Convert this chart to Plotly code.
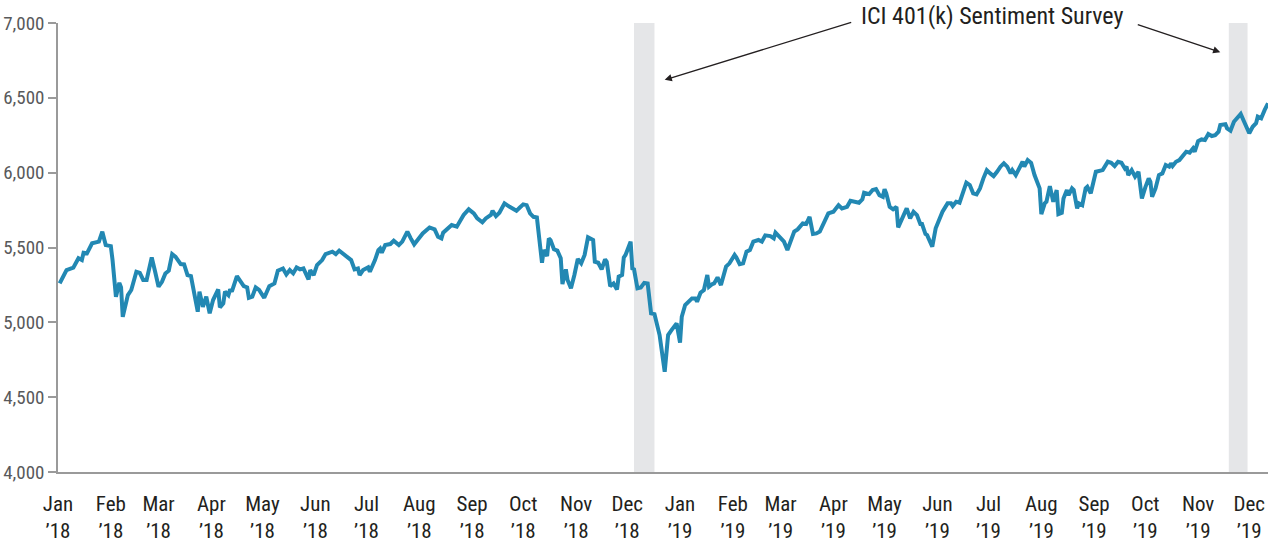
import plotly.graph_objects as go

# ---------------- data ----------------
dates = [
    "2018-01-02","2018-01-06","2018-01-10","2018-01-13","2018-01-15","2018-01-16","2018-01-18","2018-01-21",
    "2018-01-25","2018-01-27","2018-01-29","2018-02-01","2018-02-02","2018-02-04","2018-02-06","2018-02-07",
    "2018-02-08","2018-02-11","2018-02-13","2018-02-16","2018-02-18","2018-02-20","2018-02-22","2018-02-25",
    "2018-02-27","2018-03-01","2018-03-03","2018-03-05","2018-03-07","2018-03-09","2018-03-11","2018-03-14",
    "2018-03-16","2018-03-18","2018-03-20","2018-03-22","2018-03-24","2018-03-25","2018-03-27","2018-03-29",
    "2018-03-31","2018-04-02","2018-04-05","2018-04-06","2018-04-08","2018-04-09","2018-04-11","2018-04-12",
    "2018-04-13","2018-04-16","2018-04-20","2018-04-22","2018-04-23","2018-04-25","2018-04-27","2018-04-29",
    "2018-05-02","2018-05-05","2018-05-08","2018-05-10","2018-05-13","2018-05-15","2018-05-17","2018-05-19",
    "2018-05-21","2018-05-23","2018-05-25","2018-05-28","2018-05-29","2018-05-31","2018-06-02","2018-06-05",
    "2018-06-07","2018-06-11","2018-06-13","2018-06-15","2018-06-17","2018-06-20","2018-06-22","2018-06-24",
    "2018-06-26","2018-06-27","2018-06-29","2018-07-02","2018-07-03","2018-07-06","2018-07-08","2018-07-09",
    "2018-07-10","2018-07-12","2018-07-15","2018-07-17","2018-07-20","2018-07-22","2018-07-25","2018-07-27",
    "2018-07-29","2018-07-31","2018-08-03","2018-08-07","2018-08-10","2018-08-12","2018-08-14","2018-08-15",
    "2018-08-17","2018-08-20","2018-08-23","2018-08-27","2018-08-30","2018-09-02","2018-09-04","2018-09-07",
    "2018-09-09","2018-09-12","2018-09-13","2018-09-15","2018-09-17","2018-09-20","2018-09-23","2018-09-27",
    "2018-09-29","2018-10-01","2018-10-03","2018-10-05","2018-10-07","2018-10-09","2018-10-12","2018-10-13",
    "2018-10-15","2018-10-16","2018-10-17","2018-10-19","2018-10-21","2018-10-23","2018-10-24","2018-10-26",
    "2018-10-27","2018-10-29","2018-10-31","2018-11-02","2018-11-04","2018-11-06","2018-11-08","2018-11-11",
    "2018-11-12","2018-11-14","2018-11-16","2018-11-18","2018-11-19","2018-11-21","2018-11-23","2018-11-25",
    "2018-11-26","2018-11-28","2018-11-29","2018-11-30","2018-12-03","2018-12-04","2018-12-05","2018-12-07",
    "2018-12-09","2018-12-11","2018-12-13","2018-12-15","2018-12-17","2018-12-20","2018-12-23","2018-12-25",
    "2018-12-27","2018-12-29","2018-12-30","2019-01-01","2019-01-02","2019-01-04","2019-01-08","2019-01-10",
    "2019-01-11","2019-01-13","2019-01-15","2019-01-17","2019-01-18","2019-01-20","2019-01-21","2019-01-23",
    "2019-01-25","2019-01-28","2019-01-30","2019-02-02","2019-02-03","2019-02-05","2019-02-07","2019-02-09",
    "2019-02-11","2019-02-13","2019-02-16","2019-02-18","2019-02-20","2019-02-23","2019-02-25","2019-02-26",
    "2019-02-28","2019-03-03","2019-03-05","2019-03-07","2019-03-09","2019-03-11","2019-03-14","2019-03-16",
    "2019-03-18","2019-03-20","2019-03-22","2019-03-24","2019-03-26","2019-03-29","2019-04-01","2019-04-04",
    "2019-04-06","2019-04-09","2019-04-11","2019-04-13","2019-04-16","2019-04-18","2019-04-19","2019-04-22",
    "2019-04-24","2019-04-26","2019-04-28","2019-04-30","2019-05-01","2019-05-02","2019-05-04","2019-05-06",
    "2019-05-08","2019-05-09","2019-05-11","2019-05-14","2019-05-16","2019-05-18","2019-05-20","2019-05-22",
    "2019-05-23","2019-05-25","2019-05-26","2019-05-28","2019-05-29","2019-05-31","2019-06-02","2019-06-04",
    "2019-06-07","2019-06-09","2019-06-10","2019-06-12","2019-06-14","2019-06-16","2019-06-18","2019-06-20",
    "2019-06-22","2019-06-24","2019-06-26","2019-06-28","2019-06-30","2019-07-02","2019-07-04","2019-07-06",
    "2019-07-08","2019-07-10","2019-07-12","2019-07-14","2019-07-15","2019-07-17","2019-07-19","2019-07-21",
    "2019-07-22","2019-07-24","2019-07-26","2019-07-28","2019-07-31","2019-08-01","2019-08-03","2019-08-04",
    "2019-08-06","2019-08-08","2019-08-10","2019-08-11","2019-08-13","2019-08-14","2019-08-16","2019-08-17",
    "2019-08-19","2019-08-20","2019-08-22","2019-08-23","2019-08-25","2019-08-27","2019-08-28","2019-08-30",
    "2019-09-02","2019-09-04","2019-09-06","2019-09-09","2019-09-11","2019-09-13","2019-09-15","2019-09-17",
    "2019-09-19","2019-09-20","2019-09-21","2019-09-23","2019-09-25","2019-09-27","2019-09-29","2019-10-01",
    "2019-10-03","2019-10-04","2019-10-05","2019-10-07","2019-10-09","2019-10-11","2019-10-13","2019-10-15",
    "2019-10-16","2019-10-17","2019-10-19","2019-10-21","2019-10-23","2019-10-25","2019-10-27","2019-10-29",
    "2019-10-30","2019-11-01","2019-11-03","2019-11-05","2019-11-07","2019-11-09","2019-11-11","2019-11-13",
    "2019-11-14","2019-11-17","2019-11-18","2019-11-20","2019-11-22","2019-11-24","2019-11-26","2019-11-28",
    "2019-12-01","2019-12-03","2019-12-05","2019-12-06","2019-12-08","2019-12-10","2019-12-12",
]
index_values = [
    5260,5349,5365,5428,5416,5465,5461,5528,
    5539,5606,5516,5509,5416,5171,5264,5233,
    5037,5182,5216,5338,5331,5283,5283,5434,
    5338,5238,5271,5327,5345,5456,5438,5389,
    5387,5316,5309,5194,5071,5205,5104,5171,
    5060,5149,5220,5100,5127,5205,5182,5220,
    5205,5309,5242,5233,5164,5171,5233,5216,
    5164,5242,5260,5345,5360,5320,5349,5327,
    5367,5354,5360,5287,5349,5316,5383,5416,
    5456,5472,5456,5479,5461,5434,5416,5354,
    5360,5316,5349,5367,5338,5416,5483,5494,
    5465,5516,5523,5545,5516,5539,5606,5561,
    5521,5550,5594,5634,5621,5572,5561,5599,
    5621,5650,5639,5717,5755,5728,5694,5668,
    5694,5717,5745,5710,5732,5795,5772,5745,
    5767,5788,5783,5728,5705,5701,5398,5483,
    5443,5561,5550,5488,5479,5428,5256,5354,
    5283,5227,5316,5423,5394,5450,5568,5550,
    5405,5398,5354,5421,5405,5242,5260,5220,
    5305,5316,5434,5450,5539,5360,5354,5227,
    5233,5264,5260,5060,5055,4915,4670,4915,
    4948,4982,4993,4864,5037,5116,5160,5160,
    5138,5198,5216,5316,5238,5256,5260,5300,
    5249,5372,5394,5450,5434,5389,5394,5472,
    5483,5539,5550,5539,5581,5576,5561,5599,
    5572,5539,5483,5539,5606,5621,5661,5657,
    5705,5590,5594,5606,5650,5728,5739,5783,
    5761,5772,5812,5806,5799,5822,5866,5857,
    5884,5890,5850,5839,5890,5862,5772,5755,
    5772,5634,5683,5761,5694,5739,5717,5657,
    5657,5590,5583,5539,5505,5628,5683,5739,
    5795,5795,5777,5806,5799,5862,5933,5917,
    5862,5855,5895,5962,6017,5995,5977,6006,
    6040,6062,6040,5995,6017,5984,6028,6073,
    6040,6084,6066,5984,5895,5723,5795,5806,
    5910,5806,5884,5723,5732,5828,5884,5850,
    5895,5884,5761,5795,5783,5895,5906,5862,
    6006,6013,6017,6073,6066,6044,6073,6066,
    6028,6040,5984,6017,5973,6006,5828,5902,
    5962,5939,5839,5895,5984,5995,6051,6040,
    6062,6044,6073,6084,6111,6140,6133,6162,
    6140,6211,6222,6218,6258,6245,6251,6273,
    6318,6323,6296,6280,6340,6370,6392,6340,
    6263,6307,6330,6374,6363,6418,6463,
]

# survey field periods (shaded)
survey_starts = ["2018-12-05", "2019-11-19"]
survey_ends = ["2018-12-17", "2019-11-30"]
annotation_text = "ICI 401(k) Sentiment Survey"

month_ticks = [f"{y}-{m:02d}-01" for y in (2018, 2019) for m in range(1, 13)]
month_names = ["Jan", "Feb", "Mar", "Apr", "May", "Jun", "Jul", "Aug", "Sep", "Oct", "Nov", "Dec"]
tick_text = [f"{mn}<br>\u2019{str(y)[2:]}" for y in (2018, 2019) for mn in month_names]

y_ticks = [4000, 4500, 5000, 5500, 6000, 6500, 7000]

FONT = "Roboto Condensed, Liberation Sans Narrow, DejaVu Sans Condensed, Roboto, sans-serif"

fig = go.Figure()

for s, e in zip(survey_starts, survey_ends):
    fig.add_vrect(x0=s, x1=e, fillcolor="#e5e6e8", line_width=0, layer="below")

fig.add_trace(go.Scatter(
    x=dates, y=index_values, mode="lines",
    line=dict(color="#2288b3", width=4),
    hoverinfo="x+y", showlegend=False,
))

# annotation text and arrows
fig.add_annotation(
    x="2019-07-03", y=1.016, xref="x", yref="paper", text=annotation_text,
    showarrow=False, font=dict(family=FONT, size=24, color="#231f20"),
    xanchor="center", yanchor="middle",
)
fig.add_annotation(
    x="2018-12-23", y=6620, xref="x", yref="y", text="",
    showarrow=True, arrowhead=2, arrowsize=1.1, arrowwidth=1.3, arrowcolor="#231f20",
    ax=188, ay=-58, axref="pixel", ayref="pixel",
)
fig.add_annotation(
    x="2019-11-14", y=6805, xref="x", yref="y", text="",
    showarrow=True, arrowhead=2, arrowsize=1.1, arrowwidth=1.3, arrowcolor="#231f20",
    ax=-84, ay=-28, axref="pixel", ayref="pixel",
)

fig.update_layout(
    width=1270, height=547,
    margin=dict(l=58, r=2, t=23, b=75),
    paper_bgcolor="white", plot_bgcolor="white",
    font=dict(family=FONT, color="#231f20"),
    showlegend=False,
)
fig.update_xaxes(
    type="date", range=["2018-01-01", "2019-12-12"],
    tickmode="array", tickvals=month_ticks, ticktext=tick_text,
    tickfont=dict(family=FONT, size=21, color="#231f20"),
    showgrid=False, zeroline=False,
    showline=True, linecolor="#9a9a9a", linewidth=1.5,
    ticks="", ticklabelstandoff=12,
)
fig.update_yaxes(
    range=[4000, 7000], tickmode="array", tickvals=y_ticks, tickformat=",",
    tickfont=dict(family=FONT, size=19, color="#58595b"),
    showgrid=False, zeroline=False,
    showline=True, linecolor="#9a9a9a", linewidth=1.5,
    ticks="outside", ticklen=8, tickcolor="#9a9a9a", tickwidth=1.5,
)

fig.write_html(
    "out.html",
    config={"displayModeBar": False},
    post_script="document.body.style.margin='0';document.body.style.overflow='hidden';",
)
